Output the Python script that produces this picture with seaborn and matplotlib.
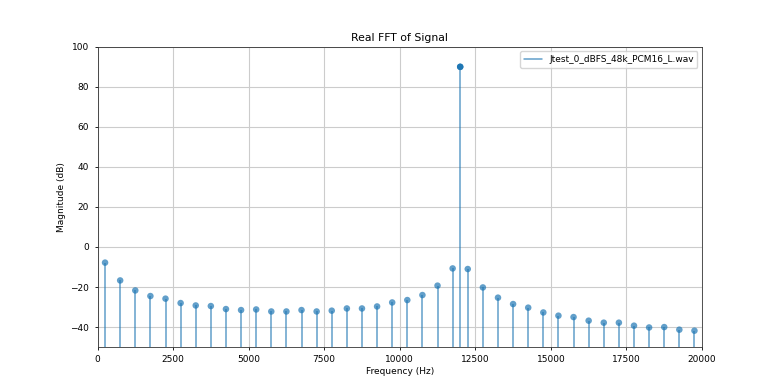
import matplotlib
matplotlib.use("Agg")
import matplotlib.pyplot as plt
import seaborn as sns
import pandas as pd
from matplotlib.lines import Line2D

# FFT bins (Hz, dB)
freqs = [250, 750, 1250, 1750, 2250, 2750, 3250, 3750, 4250, 4750,
         5250, 5750, 6250, 6750, 7250, 7750, 8250, 8750, 9250, 9750,
         10250, 10750, 11250, 11750, 12000, 12250, 12750, 13250, 13750, 14250,
         14750, 15250, 15750, 16250, 16750, 17250, 17750, 18250, 18750, 19250,
         19750]
mags = [-7.8, -16.7, -21.7, -24.5, -25.8, -28.0, -29.2, -29.5, -31.0, -31.5,
        -31.2, -32.2, -32.2, -31.5, -32.2, -31.8, -30.7, -30.7, -29.7, -27.7,
        -26.5, -24.0, -19.3, -10.7, 90.0, -11.0, -20.2, -25.3, -28.5, -30.3,
        -32.7, -34.3, -35.0, -36.8, -37.8, -37.8, -39.3, -40.2, -40.0, -41.3,
        -41.8]
peak_freq = 12000
peak_mag = 90.0
label = "Jtest_0_dBFS_48k_PCM16_L.wav"

sns.set_style("ticks")
plt.rcParams.update({
    "font.family": ["DejaVu Sans"],
    "font.size": 6.5,
    "text.color": "black",
    "axes.labelcolor": "black",
    "xtick.color": "black",
    "ytick.color": "black",
    "axes.linewidth": 0.6,
    "xtick.major.width": 0.6,
    "ytick.major.width": 0.6,
    "xtick.major.size": 2.5,
    "ytick.major.size": 2.5,
    "axes.edgecolor": "#333333",
})

df = pd.DataFrame({"freq": freqs, "mag": mags})
color = "#1f77b4"

fig, ax = plt.subplots(figsize=(7.8, 3.9), dpi=100)
fig.subplots_adjust(left=0.125, right=0.9, top=0.88, bottom=0.11)

ax.grid(True, color="#cccccc", linewidth=0.8, zorder=0)
ax.vlines(df["freq"], -50, df["mag"], color=color, alpha=0.7, linewidth=1.1, zorder=2)
sns.scatterplot(data=df, x="freq", y="mag", ax=ax, color=color, alpha=0.7,
                s=22, edgecolor="none", zorder=3, legend=False)
ax.scatter([peak_freq], [peak_mag], color=color, s=22, zorder=4, edgecolor="none")

ax.set_xlim(0, 20000)
ax.set_ylim(-50, 100)
ax.set_title("Real FFT of Signal", fontsize=7.8, pad=4)
ax.set_xlabel("Frequency (Hz)", labelpad=2)
ax.set_ylabel("Magnitude (dB)", labelpad=3)

handle = Line2D([0], [0], color=color, alpha=0.7, linewidth=1.1)
ax.legend([handle], [label], loc="upper right", fancybox=True, framealpha=0.8)

fig.savefig("out.png", dpi=100)
